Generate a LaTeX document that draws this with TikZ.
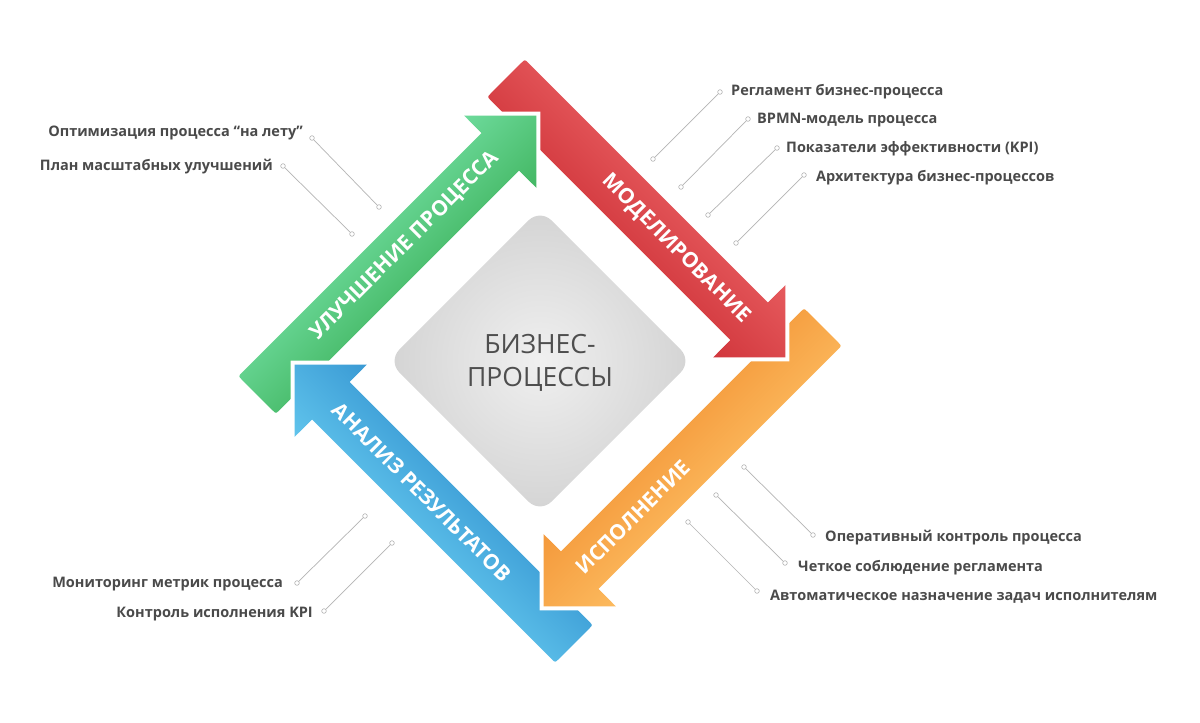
\documentclass[tikz,border=0pt]{standalone}
\usepackage{fontspec}
\setmainfont{Open Sans}
\definecolor{redL}{HTML}{E65A5D}
\definecolor{redD}{HTML}{D1363C}
\definecolor{orgL}{HTML}{FCBA5E}
\definecolor{orgD}{HTML}{F4993B}
\definecolor{bluL}{HTML}{60C4EC}
\definecolor{bluD}{HTML}{3A9AD4}
\definecolor{grnL}{HTML}{6DDA9B}
\definecolor{grnD}{HTML}{43B763}
\definecolor{lblgray}{HTML}{4A4A4A}
\definecolor{leadgray}{HTML}{B4B4B4}
\definecolor{ctrtxt}{HTML}{4E4E4E}
\newcommand\arrpath{(120,149.5) -- (-219,149.5) .. controls (-224,149.5) .. (-224,154.5) -- (-224,197.5) .. controls (-224,202.5) .. (-219,202.5) -- (120,202.5) -- (120,227) -- (171,176) -- (120,125) -- cycle}
\newcommand\headpath{(120,227) -- (171,176) -- (120,125) -- cycle}
\newcommand\bandarrow[3]{%
  \begin{scope}[transform canvas={shift={(540,361)},rotate=#1,yscale=-1}]
    \begin{scope}
      \clip \arrpath;
      \shade[top color=#3, bottom color=#2] (-230,125) rectangle (175,227);
    \end{scope}
  \end{scope}}
\newcommand\bandhead[3]{%
  \begin{scope}[transform canvas={shift={(540,361)},rotate=#1,yscale=-1}]
    \draw[white, line width=8, line join=miter, line cap=butt] (120,227) -- (171,176) -- (120,125);
    \begin{scope}
      \clip \headpath;
      \shade[top color=#3, bottom color=#2] (-230,125) rectangle (175,227);
    \end{scope}
  \end{scope}}
\begin{document}
\begin{tikzpicture}[x=1pt,y=-1pt,
  bandtxt/.style={font=\bfseries\fontsize{21}{21}\selectfont, text=white, inner sep=0},
  lbl/.style={font=\bfseries\fontsize{14.5}{14.5}\selectfont, text=lblgray, inner sep=0},
  leader/.style={draw=leadgray, line width=0.7},
  dot/.style={circle, draw=leadgray, fill=white, line width=0.6, minimum size=4.6, inner sep=0}]
\useasboundingbox[fill=white] (0,0) rectangle (1200,723);

% centre
\node[rotate=45, minimum size=215, rounded corners=16, shading=radial, inner color=black!6, outer color=black!17, inner sep=0] (core) at (540,361) {};
\node[font=\fontsize{26.5}{33}\selectfont, text=ctrtxt, align=center, inner sep=0] (coretxt) at (540,363) {БИЗНЕС-\\ПРОЦЕССЫ};

% bands
\bandarrow{-45}{redL}{redD}
\bandarrow{-135}{orgL}{orgD}
\bandarrow{-225}{bluL}{bluD}
\bandarrow{-315}{grnL}{grnD}
\bandhead{-45}{redL}{redD}
\bandhead{-135}{orgL}{orgD}
\bandhead{-225}{bluL}{bluD}
\bandhead{-315}{grnL}{grnD}

% band texts
\node[bandtxt, rotate=-45] (mt) at (676,249) {МОДЕЛИРОВАНИЕ};
\node[bandtxt, rotate=45] (it) at (633,517) {ИСПОЛНЕНИЕ};
\node[bandtxt, rotate=-45] (at) at (422,492) {АНАЛИЗ РЕЗУЛЬТАТОВ};
\node[bandtxt, rotate=45] (ut) at (405,246) {УЛУЧШЕНИЕ ПРОЦЕССА};

% top-right labels
\node[lbl, anchor=base west] (l1) at (731,95) {Регламент бизнес-процесса};
\node[lbl, anchor=base west] (l2) at (757,123.5) {BPMN-модель процесса};
\node[lbl, anchor=base west] (l3) at (786,152) {Показатели эффективности (KPI)};
\node[lbl, anchor=base west] (l4) at (816,181) {Архитектура бизнес-процессов};
\node[dot] (l1a) at (720,92) {}; \node[dot] (l1b) at (653,159) {};
\node[dot] (l2a) at (748,119) {}; \node[dot] (l2b) at (681,187) {};
\node[dot] (l3a) at (777,148) {}; \node[dot] (l3b) at (708,215) {};
\node[dot] (l4a) at (804,175) {}; \node[dot] (l4b) at (736,243) {};
\draw[leader] (l1a) -- (l1b); \draw[leader] (l2a) -- (l2b);
\draw[leader] (l3a) -- (l3b); \draw[leader] (l4a) -- (l4b);

% bottom-right labels
\node[lbl, anchor=base west] (r1) at (825,541.5) {Оперативный контроль процесса};
\node[lbl, anchor=base west] (r2) at (798,571.5) {Четкое соблюдение регламента};
\node[lbl, anchor=base west] (r3) at (770,600.5) {Автоматическое назначение задач исполнителям};
\node[dot] (r1a) at (744,467) {}; \node[dot] (r1b) at (813,535) {};
\node[dot] (r2a) at (716,495) {}; \node[dot] (r2b) at (785,563) {};
\node[dot] (r3a) at (688,522) {}; \node[dot] (r3b) at (757,591) {};
\draw[leader] (r1a) -- (r1b); \draw[leader] (r2a) -- (r2b); \draw[leader] (r3a) -- (r3b);

% top-left labels
\node[lbl, anchor=base east] (g1) at (303,136.5) {Оптимизация процесса “на лету”};
\node[lbl, anchor=base east] (g2) at (273,170) {План масштабных улучшений};
\node[dot] (g1a) at (312,138) {}; \node[dot] (g1b) at (379,207) {};
\node[dot] (g2a) at (283,166) {}; \node[dot] (g2b) at (352,234) {};
\draw[leader] (g1a) -- (g1b); \draw[leader] (g2a) -- (g2b);

% bottom-left labels
\node[lbl, anchor=base east] (b1) at (283,587.5) {Мониторинг метрик процесса};
\node[lbl, anchor=base east] (b2) at (313,617) {Контроль исполнения KPI};
\node[dot] (b1a) at (297,583) {}; \node[dot] (b1b) at (365,516) {};
\node[dot] (b2a) at (324,611) {}; \node[dot] (b2b) at (392,543) {};
\draw[leader] (b1a) -- (b1b); \draw[leader] (b2a) -- (b2b);
\end{tikzpicture}
\end{document}
